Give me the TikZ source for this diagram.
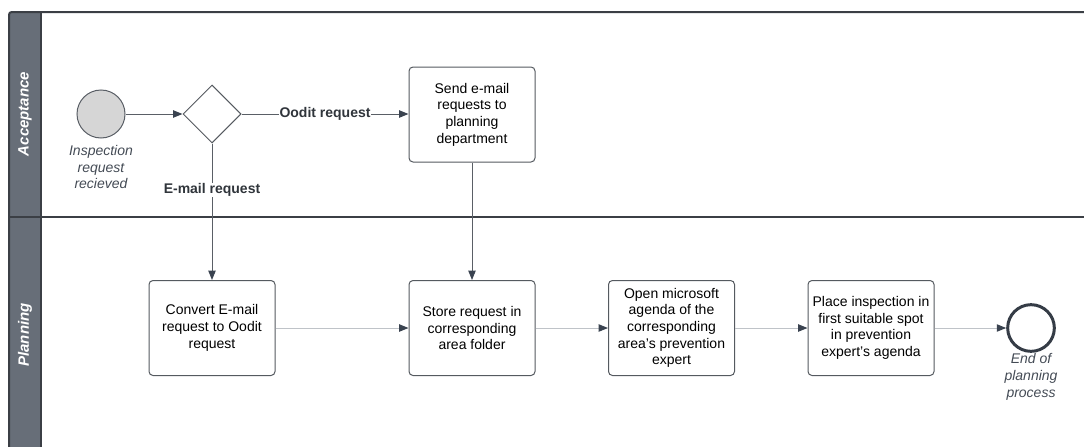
\documentclass[tikz,border=0pt]{standalone}
\usepackage{fontspec}
\setmainfont{Liberation Sans}
\usetikzlibrary{arrows.meta,shapes.geometric}
\definecolor{hdr}{HTML}{676E78}
\definecolor{poolline}{HTML}{3B3F45}
\definecolor{boxline}{HTML}{555A60}
\definecolor{darkline}{HTML}{5A5F66}
\definecolor{lightline}{HTML}{BFC3C8}
\definecolor{tipcol}{HTML}{3A4350}
\definecolor{startfill}{HTML}{D6D6D6}
\definecolor{endline}{HTML}{353C46}
\definecolor{lbltext}{HTML}{444B55}
\begin{document}
\begin{tikzpicture}[x=0.75pt,y=-0.75pt,
  every node/.style={font=\fontsize{10.5pt}{12.5pt}\selectfont, text=black},
  taskbox/.style={draw=boxline, line width=0.75pt, rounded corners=3pt, fill=white,
    minimum width=94.5pt, minimum height=71.25pt, align=center, inner sep=2pt},
  gate/.style={diamond, draw=boxline, line width=0.75pt, fill=white, aspect=1,
    minimum width=43.5pt, minimum height=43.5pt, inner sep=0pt},
  startev/.style={circle, draw=darkline, line width=0.75pt, fill=startfill, minimum size=36pt, inner sep=0pt},
  endev/.style={circle, draw=endline, line width=2.25pt, fill=white, minimum size=35pt, inner sep=0pt},
  evlabel/.style={align=center, font=\fontsize{10.5pt}{12.5pt}\selectfont\itshape, text=lbltext},
  flowlbl/.style={fill=white, inner sep=0.6pt, font=\fontsize{10.5pt}{12.5pt}\selectfont\bfseries, text=lbltext!70!black},
  lanelbl/.style={rotate=90, font=\fontsize{11.25pt}{13pt}\selectfont\bfseries\itshape, text=white},
  dflow/.style={draw=darkline, line width=0.75pt, -{Triangle[length=7pt,width=5.5pt]}, color=darkline},
  lflow/.style={draw=lightline, line width=0.75pt, -{Triangle[length=7pt,width=5.5pt,color=tipcol]}},
  tipdark/.style={-{Triangle[length=7pt,width=5.5pt,color=tipcol]}}
]
\useasboundingbox (0,0) rectangle (1084,446);
% pool and lanes
\fill[hdr, rounded corners=2pt] (9,460) -- (9,12) -- (41,12) -- (41,460) -- cycle;
\draw[poolline, line width=1.5pt, rounded corners=2pt] (9,460) -- (9,12) -- (1090,12);
\draw[poolline, line width=1.5pt] (41,12) -- (41,460);
\draw[poolline, line width=1.5pt] (9,217) -- (1090,217);
\node[lanelbl] (lane1) at (25,114) {Acceptance};
\node[lanelbl] (lane2) at (25,335) {Planning};
% nodes
\node[startev] (start) at (101,114) {};
\node[evlabel] (startlbl) at (101,167) {Inspection\\request\\recieved};
\node[gate] (gw) at (212,114) {};
\node[taskbox] (send) at (472,114.5) {Send e-mail\\requests to\\planning\\department};
\node[taskbox] (convert) at (212,328) {Convert E-mail\\request to Oodit\\request};
\node[taskbox] (store) at (472,328) {Store request in\\corresponding\\area folder};
\node[taskbox] (open) at (671.5,328) {Open microsoft\\agenda of the\\corresponding\\area's prevention\\expert};
\node[taskbox] (place) at (871,328) {Place inspection in\\first suitable spot\\in prevention\\expert's agenda};
\node[endev] (end) at (1031,328) {};
\node[evlabel] (endlbl) at (1031,377) {End of\\planning\\process};
% flows
\draw[dflow, tipdark] (start) -- (gw);
\draw[dflow, tipdark] (gw.east) -- node[flowlbl] (lblo) {Oodit request} (gw.east -| send.west);
\draw[dflow, tipdark] (gw.south) -- node[flowlbl, pos=0.34] (lble) {E-mail request} (convert.north);
\draw[dflow, tipdark] (send.south) -- (store.north);
\draw[lflow] (convert.east) -- (store.west);
\draw[lflow] (store.east) -- (open.west);
\draw[lflow] (open.east) -- (place.west);
\draw[lflow] (place.east) -- (end.west);
\end{tikzpicture}
\end{document}
